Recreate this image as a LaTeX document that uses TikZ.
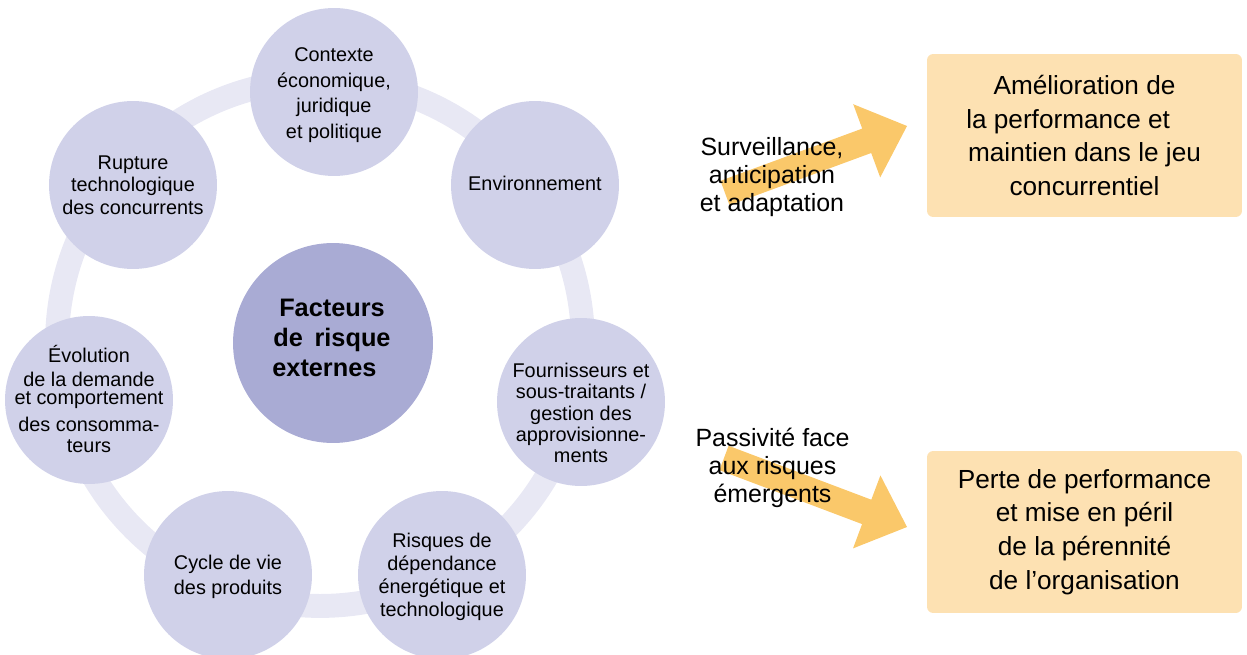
\documentclass[tikz,border=0pt]{standalone}
\usepackage{fontspec}
\setmainfont{Liberation Sans}
\definecolor{ringc}{RGB}{232,232,244}
\definecolor{bubc}{RGB}{208,209,233}
\definecolor{corec}{RGB}{169,171,212}
\definecolor{boxc}{RGB}{253,225,178}
\definecolor{arrc}{RGB}{250,200,106}
\begin{document}
\begin{tikzpicture}[x=0.02cm,y=-0.02cm,
  bub/.style={circle, fill=bubc, minimum size=3.36cm, inner sep=0pt},
  bubtxt/.style={align=center, inner sep=0pt, font=\fontsize{11.3pt}{13.2pt}\selectfont},
  core/.style={circle, fill=corec, minimum size=4cm, inner sep=0pt},
  coretxt/.style={align=center, inner sep=0pt, font=\fontsize{14.4pt}{17.3pt}\selectfont\bfseries},
  outbox/.style={fill=boxc, rounded corners=3.5pt, minimum width=6.3cm, inner sep=0pt, align=center, font=\fontsize{14.9pt}{19.1pt}\selectfont},
  lbl/.style={align=center, inner sep=0pt, font=\fontsize{14.2pt}{16.1pt}\selectfont},
  fatarrow/.style={fill=arrc}]
\useasboundingbox (0,0) rectangle (1247,655);

% ring
\draw[ringc, line width=13.6pt] (320,343) circle [radius=5.26cm];

% outer circles
\node[bub] (c1) at (334,92) {};
\node[bub] (c2) at (535,185) {};
\node[bub] (c3) at (581,402) {};
\node[bub] (c4) at (442,575) {};
\node[bub] (c5) at (228,575) {};
\node[bub] (c6) at (89,400) {};
\node[bub] (c7) at (133,185) {};
\node[core] (core) at (333,343) {};

% circle texts
\node[bubtxt, font=\fontsize{11.3pt}{14.6pt}\selectfont] (t1) at (334,95) {Contexte\\économique,\\juridique\\et politique};
\node[bubtxt] (t2) at (535,183) {Environnement};
\node[bubtxt, font=\fontsize{11.3pt}{12.2pt}\selectfont] (t3) at (581,413) {Fournisseurs et\\sous-traitants /\\gestion des\\approvisionne-\\ments};
\node[bubtxt] (t4) at (442,577) {Risques de\\dépendance\\énergétique et\\technologique};
\node[bubtxt, font=\fontsize{11.3pt}{14.2pt}\selectfont] (t5) at (228,577) {Cycle de vie\\des produits};
\node[bubtxt, font=\fontsize{11.3pt}{12.5pt}\selectfont] (t6) at (89,399) {Évolution\\[1.1pt]de la demande\\[-2.3pt]et comportement\\[2.8pt]des consomma-\\[-0.6pt]teurs};
\node[bubtxt, font=\fontsize{11.3pt}{12.75pt}\selectfont] (t7) at (133,185) {Rupture\\technologique\\des concurrents};
\node[coretxt] (t0) at (332,338) {Facteurs\\de\hspace{0.46em}risque\\externes\hspace*{0.6em}};

% arrows
\fill[fatarrow] (720.5,180.8) -- (862.2,128.6) -- (853.2,104.2) -- (907,126)
  -- (880.2,177.4) -- (871.2,153.0) -- (729.5,205.2) -- cycle;
\fill[fatarrow] (728.6,445.8) -- (871.3,499.7) -- (880.4,475.4) -- (907,527)
  -- (853.0,548.4) -- (862.1,524.1) -- (719.4,470.2) -- cycle;

% arrow labels
\node[lbl] (l1) at (772,177) {Surveillance,\\anticipation\\et adaptation};
\node[lbl, font=\fontsize{14.2pt}{15.9pt}\selectfont] (l2) at (772.5,468) {Passivité face\\aux risques\\émergents};

% outcome boxes
\node[outbox, minimum height=3.26cm] (b1) at (1084.5,135.5) {Amélioration de\\la performance et\rule{1.25em}{0pt}\\maintien dans le jeu\\concurrentiel};
\node[outbox, minimum height=3.24cm] (b2) at (1084.5,532) {Perte de performance\\et mise en péril\\de la pérennité\\de l’organisation};
\end{tikzpicture}
\end{document}
